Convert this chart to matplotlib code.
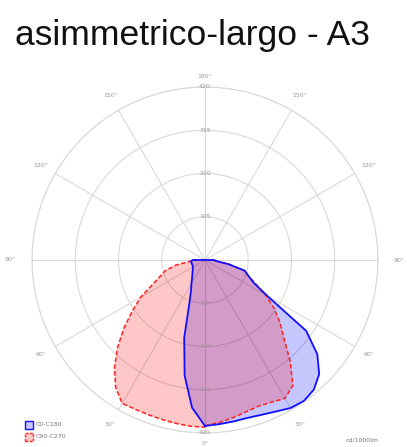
import numpy as np
import matplotlib
matplotlib.use("Agg")
import matplotlib.pyplot as plt
from matplotlib.patches import Rectangle

# gamma angles (deg) and intensities (cd/1000lm)
gamma = [0, 5, 10, 15, 20, 25, 30, 35, 40, 45, 50, 55, 60, 65, 70, 75, 80, 85, 90]
c0 = [403, 400, 398, 397, 400, 406, 415, 418, 411, 392, 356, 300, 175, 130, 112, 100, 58, 26, 22]
c180 = [403, 360, 285, 195, 110, 80, 66, 55, 48, 43, 39, 36, 34, 33, 33, 33, 34, 34, 30]
c90 = [402, 396, 389, 382, 378, 381, 388, 372, 322, 272, 238, 205, 170, 135, 112, 97, 58, 28, 22]
c270 = [406, 405, 403, 401, 400, 400, 402, 378, 342, 300, 257, 215, 180, 140, 116, 100, 72, 37, 20]

rings = [105, 210, 315, 420]
spoke_angles = [0, 30, 60, 90, 120, 150, 180, 210, 240, 270, 300, 330]
spoke_labels = ["0°", "30°", "60°", "90°", "120°", "150°", "180°",
                "150°", "120°", "90°", "60°", "30°"]

title = "asimmetrico-largo - A3"
series_names = ["C0-C180", "C90-C270"]
unit = "cd/1000lm"


def closed_curve(right, left):
    g = np.radians(gamma)
    th = np.concatenate([g, -g[::-1]])
    r = np.concatenate([right, left[::-1]])
    return th, r


W, H = 407, 447
fig = plt.figure(figsize=(W / 100, H / 100), dpi=100)
fig.patch.set_facecolor("white")

cx, cy, R = 205, 260, 173
ax = fig.add_axes([(cx - R) / W, (H - cy - R) / H, 2 * R / W, 2 * R / H],
                  projection="polar")
ax.set_theta_zero_location("S")
ax.set_ylim(0, 420)
ax.set_xticks(np.radians(spoke_angles))
ax.set_xticklabels([])
ax.set_yticks(rings)
ax.set_yticklabels([])
ax.grid(True, color="#d9d9d9", lw=0.8)
ax.spines["polar"].set_color("#d9d9d9")
ax.spines["polar"].set_linewidth(0.8)
ax.set_facecolor("white")

# curves
th_b, r_b = closed_curve(c0, c180)
th_r, r_r = closed_curve(c90, c270)
ax.fill(th_b, r_b, color="#0000ff", alpha=0.22, lw=0, zorder=3)
ax.fill(th_r, r_r, color="#ff0000", alpha=0.22, lw=0, zorder=3)
ax.plot(th_r, r_r, color="#ff2020", lw=1.1, ls=(0, (3, 1.5)), zorder=4)
ax.plot(th_b, r_b, color="#1010ff", lw=1.3, zorder=5)

# angle labels
for a, lab in zip(spoke_angles, spoke_labels):
    rr = 445 if a in (0, 180) else 460
    if a in (90, 270):
        rr = 472
    ax.text(np.radians(a), rr, lab, fontsize=4.5, color="#999999",
            ha="center", va="center", clip_on=False)

# ring labels on the vertical axis, top and bottom
for rv in rings:
    for a in (0, 180):
        ax.text(np.radians(a), rv, str(rv), fontsize=4.5, color="#999999",
                ha="center", va="center", zorder=6)

fig.text(15 / W, 1 - 35 / H, title, fontsize=25.5, family="Liberation Sans",
         color="#111111", ha="left", va="center")

# legend
fig.add_artist(Rectangle((25 / W, 1 - 429 / H), 8 / W, 8 / H, transform=fig.transFigure,
                         facecolor="#c8c8ff", edgecolor="#1010ff", lw=1.0))
fig.add_artist(Rectangle((25 / W, 1 - 441 / H), 8 / W, 8 / H, transform=fig.transFigure,
                         facecolor="#ffc8c8", edgecolor="#ff2020", lw=1.0, ls=(0, (2, 1))))
fig.text(36 / W, 1 - 425 / H, series_names[0], fontsize=4.5, color="#777777", va="center")
fig.text(36 / W, 1 - 437 / H, series_names[1], fontsize=4.5, color="#777777", va="center")
fig.text(362 / W, 1 - 440 / H, unit, fontsize=4.5, color="#777777", ha="center", va="center")

fig.savefig("out.png", dpi=100)
